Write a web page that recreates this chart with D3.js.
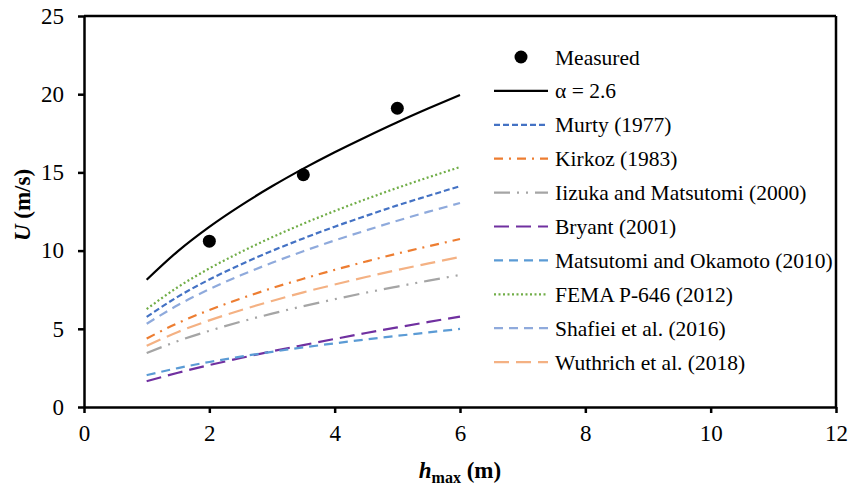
<!DOCTYPE html>
<html>
<head>
<meta charset="utf-8">
<script src="https://cdn.jsdelivr.net/npm/d3@7"></script>
<style>
  body { margin: 0; background: #fff; }
  svg { display: block; }
  svg text { font-family: 'Liberation Serif', 'Times New Roman', Times, Tinos, 'DejaVu Serif', serif !important; fill: #000; }
</style>
</head>
<body>
<svg id="chart" width="851" height="490"></svg>
<script>
// ---- data ----
const hValues = [1, 1.5, 2, 2.5, 3, 3.5, 4, 4.5, 5, 5.5, 6];
const measuredH = [2, 3.5, 5];
const measuredU = [10.6, 14.85, 19.1];
const alphaU    = [8.14, 9.97, 11.52, 12.88, 14.11, 15.24, 16.29, 17.27, 18.21, 19.10, 19.95];
const murtyU    = [5.76, 7.06, 8.15, 9.11, 9.98, 10.78, 11.53, 12.22, 12.89, 13.51, 14.12];
const kirkozU   = [4.38, 5.37, 6.20, 6.93, 7.60, 8.20, 8.77, 9.30, 9.81, 10.28, 10.74];
const iizukaU   = [3.45, 4.22, 4.87, 5.45, 5.97, 6.45, 6.89, 7.31, 7.70, 8.08, 8.44];
const bryantU   = [1.65, 2.19, 2.68, 3.13, 3.56, 3.96, 4.35, 4.73, 5.09, 5.44, 5.78];
const matsuU    = [2.04, 2.49, 2.88, 3.22, 3.53, 3.81, 4.07, 4.32, 4.55, 4.77, 4.99];
const femaU     = [6.26, 7.67, 8.86, 9.90, 10.85, 11.72, 12.53, 13.29, 14.01, 14.69, 15.34];
const shafieiU  = [5.32, 6.52, 7.53, 8.42, 9.22, 9.96, 10.65, 11.29, 11.91, 12.49, 13.04];
const wuthrichU = [3.92, 4.80, 5.54, 6.19, 6.78, 7.33, 7.83, 8.31, 8.76, 9.18, 9.59];
const seriesNames = ["α = 2.6", "Murty (1977)", "Kirkoz (1983)", "Iizuka and Matsutomi (2000)",
  "Bryant (2001)", "Matsutomi and Okamoto (2010)", "FEMA P-646 (2012)",
  "Shafiei et al. (2016)", "Wuthrich et al. (2018)"];
const xTicks = [0, 2, 4, 6, 8, 10, 12];
const yTicks = [0, 5, 10, 15, 20, 25];

// ---- styles ----
const FONT = "'Liberation Serif', 'Times New Roman', Times, Tinos, 'DejaVu Serif', serif";
const seriesData = [alphaU, murtyU, kirkozU, iizukaU, bryantU, matsuU, femaU, shafieiU, wuthrichU];
const styles = [
  {color: "#000000", dash: null, w: 2.2},
  {color: "#4472C4", dash: "6,3", w: 2.2},
  {color: "#ED7D31", dash: "9,6,2,6", w: 2.2},
  {color: "#A5A5A5", dash: "16,7,2,7,2,7", w: 2.2},
  {color: "#7030A0", dash: "15,7", w: 2.2},
  {color: "#5B9BD5", dash: "9,6", w: 2.2},
  {color: "#70AD47", dash: "2,2.5", w: 2.2},
  {color: "#8FAADC", dash: "9,6", w: 2.2},
  {color: "#F4B183", dash: "15,7", w: 2.2}
];

const svg = d3.select("#chart");
const x = d3.scaleLinear().domain([0, 12]).range([84, 836]);
const y = d3.scaleLinear().domain([0, 25]).range([407, 16]);

// frame (top and right)
svg.append("line").attr("x1", x(0)).attr("x2", x(12)).attr("y1", y(25)).attr("y2", y(25))
  .attr("stroke", "#000").attr("stroke-width", 2.5);
svg.append("line").attr("x1", x(12)).attr("x2", x(12)).attr("y1", y(25)).attr("y2", y(0))
  .attr("stroke", "#000").attr("stroke-width", 2.5);

// axes
const gx = svg.append("g").attr("transform", `translate(0,${y(0)})`)
  .call(d3.axisBottom(x).tickValues(xTicks).tickFormat(d3.format("d")).tickSize(6).tickPadding(12).tickSizeOuter(0));
const gy = svg.append("g").attr("transform", `translate(${x(0)},0)`)
  .call(d3.axisLeft(y).tickValues(yTicks).tickFormat(d3.format("d")).tickSize(6).tickPadding(14).tickSizeOuter(0));
[gx, gy].forEach(g => {
  g.attr("font-family", FONT);
  g.select(".domain").attr("stroke", "#000").attr("stroke-width", 2.5);
  g.selectAll(".tick line").attr("stroke", "#000").attr("stroke-width", 2.5);
  g.selectAll(".tick text").attr("font-size", 23).attr("font-family", FONT).attr("fill", "#000");
});

// lines
const line = d3.line().curve(d3.curveMonotoneX).x((d, i) => x(hValues[i])).y(d => y(d));
seriesData.forEach((s, k) => {
  const st = styles[k];
  svg.append("path").datum(s).attr("d", line)
    .attr("fill", "none").attr("stroke", st.color).attr("stroke-width", st.w)
    .attr("stroke-dasharray", st.dash);
});

// measured points
svg.selectAll("circle.meas").data(measuredH).enter().append("circle")
  .attr("class", "meas")
  .attr("cx", d => x(d)).attr("cy", (d, i) => y(measuredU[i])).attr("r", 6.5).attr("fill", "#000");

// legend
const lx0 = 494, lx1 = 548, tx = 555, ly0 = 57, dy = 33.9;
const lg = svg.append("g").attr("font-family", FONT);
lg.append("circle").attr("cx", (lx0 + lx1) / 2).attr("cy", ly0).attr("r", 6.5).attr("fill", "#000");
lg.append("text").attr("x", tx).attr("y", ly0).attr("dy", "0.35em").attr("font-size", 21.5).text("Measured");
seriesNames.forEach((name, k) => {
  const yy = ly0 + dy * (k + 1);
  const st = styles[k];
  lg.append("line").attr("x1", lx0).attr("x2", lx1).attr("y1", yy).attr("y2", yy)
    .attr("stroke", st.color).attr("stroke-width", st.w).attr("stroke-dasharray", st.dash);
  lg.append("text").attr("x", tx).attr("y", yy).attr("dy", "0.35em").attr("font-size", 21.5).text(name);
});

// axis titles
const xt = svg.append("text").attr("x", 460).attr("y", 478).attr("text-anchor", "middle")
  .attr("font-family", FONT).attr("font-size", 23).attr("font-weight", "bold");
xt.append("tspan").attr("font-style", "italic").text("h");
xt.append("tspan").attr("font-size", 16).attr("dy", 5).text("max");
xt.append("tspan").attr("dy", -5).text(" (m)");

const yt = svg.append("text").attr("transform", "translate(30,205) rotate(-90)")
  .attr("font-family", FONT).attr("text-anchor", "middle").attr("font-size", 23).attr("font-weight", "bold");
yt.append("tspan").attr("font-style", "italic").text("U");
yt.append("tspan").text(" (m/s)");
</script>
</body>
</html>
